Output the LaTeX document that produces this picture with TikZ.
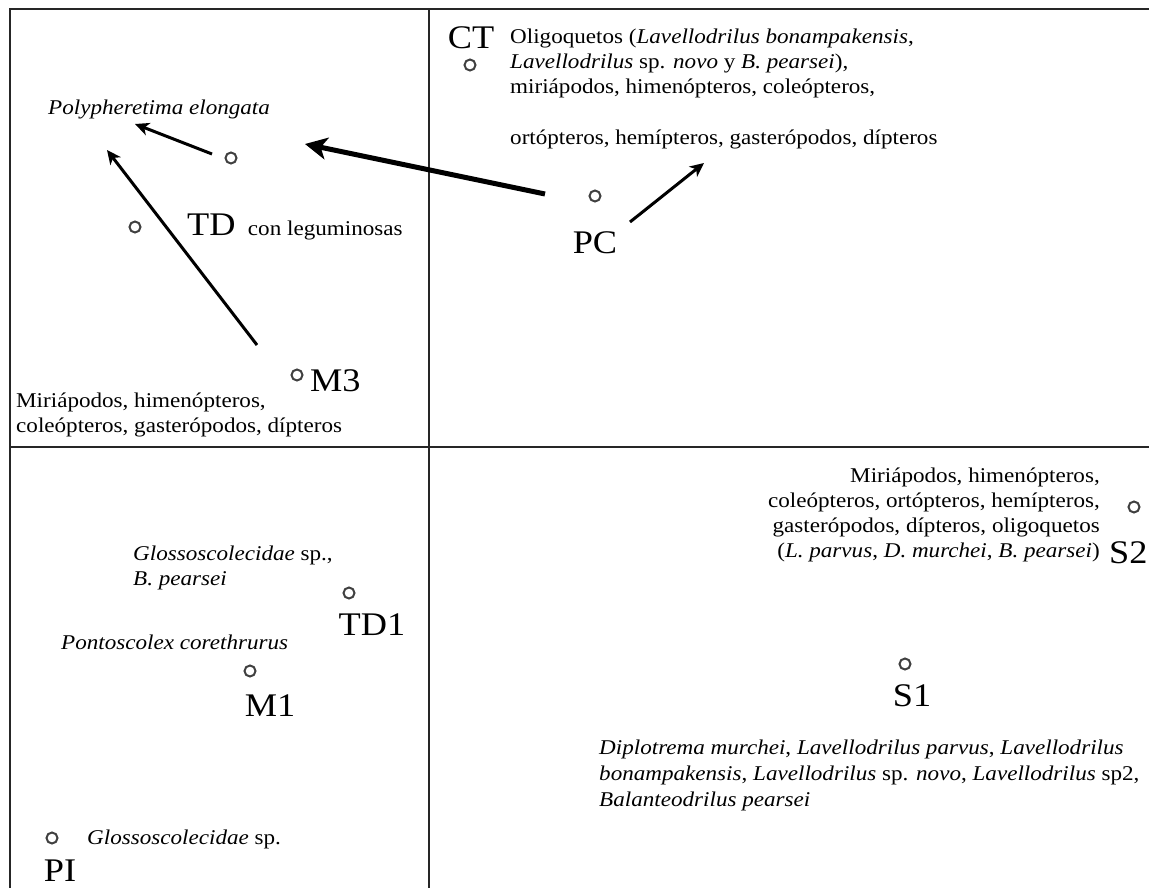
\documentclass[tikz,border=0pt]{standalone}
\usepackage{fontspec}
\setmainfont{Liberation Serif}[FakeStretch=1.1]
\usepackage{tikz}
\usetikzlibrary{arrows.meta}

\begin{document}
\begin{tikzpicture}[x=1pt, y=-1pt,
    site/.style={circle, draw=black!75, line width=2pt, minimum size=11pt, inner sep=0pt},
    tag/.style={font=\fontsize{33}{36}\selectfont, inner sep=0pt},
    txt/.style={font=\fontsize{21}{25}\selectfont, inner sep=0pt},
    arr/.style={line width=3pt, -{Stealth[length=14pt, width=13pt, inset=4pt]}},
    bigarr/.style={line width=5pt, -{Stealth[length=22pt, width=22pt, inset=6pt]}},
    frame/.style={line width=2.2pt, black!85}]
    \useasboundingbox (0,0) rectangle (1149,888);
    % quadrants
    \draw[frame] (10,888) -- (10,9) -- (1149,9);
    \draw[frame] (429,9) -- (429,888);
    \draw[frame] (10,447) -- (1149,447);
    % upper left
    \node[txt, anchor=west] (poly) at (48,109) {\textit{Polypheretima elongata}};
    \node[site] (tda) at (231,158) {};
    \node[site] (tdb) at (135,227) {};
    \node[tag, anchor=west] (td) at (187,225) {TD};
    \node[txt, anchor=base west] (tdleg) at ([xshift=12pt]td.base east) {con leguminosas};
    \node[site] (mt) at (297,375) {};
    \node[tag, anchor=west] (m3) at (310,381) {M3};
    \node[txt, anchor=north west, align=left] (m3txt) at (16,393) {Miriápodos, himenópteros,\\coleópteros, gasterópodos, dípteros};
    \coordinate (tdtail) at (212,154);
    \coordinate (tdhead) at (135,124);
    \coordinate (m3tail) at (257,345);
    \coordinate (m3head) at (107,150);
    \draw[arr] (tdtail) -- (tdhead);
    \draw[arr] (m3tail) -- (m3head);
    % upper right
    \node[tag] (ct) at (471,38) {CT};
    \node[site] (cts) at (470,65) {};
    \node[txt, anchor=north west, align=left] (cttxt) at (510,29) {Oligoquetos (\textit{Lavellodrilus bonampakensis},\\\textit{Lavellodrilus} sp. \textit{novo} y \textit{B. pearsei}),\\miriápodos, himenópteros, coleópteros,\\[26pt]ortópteros, hemípteros, gasterópodos, dípteros};
    \node[site] (pcs) at (595,196) {};
    \node[tag] (pc) at (595,243) {PC};
    \coordinate (pctail) at (545,194);
    \coordinate (pchead) at (305,144);
    \coordinate (pctail2) at (630,222);
    \coordinate (pchead2) at (704,163);
    \draw[bigarr] (pctail) -- (pchead);
    \draw[arr] (pctail2) -- (pchead2);
    % lower left
    \node[txt, anchor=north west, align=left] (glo) at (133,546) {\textit{Glossoscolecidae} sp.,\\\textit{B. pearsei}};
    \node[site] (tdos) at (349,593) {};
    \node[tag] (td1) at (372,625) {TD1};
    \node[txt, anchor=west] (pont) at (61,642) {\textit{Pontoscolex corethrurus}};
    \node[site] (mos) at (250,671) {};
    \node[tag] (m1) at (270,706) {M1};
    \node[site] (pis) at (52,838) {};
    \node[txt, anchor=west] (glopi) at (87,839) {\textit{Glossoscolecidae} sp.};
    \node[tag] (pi) at (60,871) {PI};
    % lower right
    \node[txt, anchor=north east, align=right] (s2txt) at (1100,468) {Miriápodos, himenópteros,\\coleópteros, ortópteros, hemípteros,\\gasterópodos, dípteros, oligoquetos\\(\textit{L. parvus}, \textit{D. murchei}, \textit{B. pearsei})};
    \node[site] (s2s) at (1134,507) {};
    \node[tag, anchor=west] (s2) at (1109,553) {S2};
    \node[site] (s1s) at (905,664) {};
    \node[tag] (s1) at (912,696) {S1};
    \node[txt, anchor=north west, align=left, font=\fontsize{21}{26}\selectfont] (dip) at (599,740) {\textit{Diplotrema murchei}, \textit{Lavellodrilus parvus}, \textit{Lavellodrilus}\\\textit{bonampakensis}, \textit{Lavellodrilus} sp. \textit{novo}, \textit{Lavellodrilus} sp2,\\\textit{Balanteodrilus pearsei}};
\end{tikzpicture}
\end{document}
